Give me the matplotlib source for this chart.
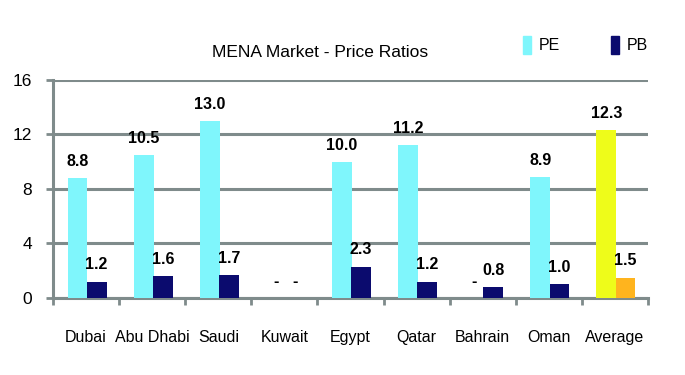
import matplotlib
matplotlib.use("Agg")
import matplotlib.pyplot as plt
import numpy as np
from matplotlib.patches import Patch

# data
markets = ["Dubai", "Abu Dhabi", "Saudi", "Kuwait", "Egypt", "Qatar", "Bahrain", "Oman", "Average"]
pe_vals = [8.8, 10.5, 13.0, 0.0, 10.0, 11.2, 0.0, 8.9, 12.3]
pb_vals = [1.2, 1.6, 1.7, 0.0, 2.3, 1.2, 0.8, 1.0, 1.5]
y_ticks = [0, 4, 8, 12, 16]

PE_COLOR = "#7ff6fc"
PB_COLOR = "#0b0b6e"
AVG_PE_COLOR = "#eefc1a"
AVG_PB_COLOR = "#ffb41e"
GRID = "#7f8b8b"

plt.rcParams["font.family"] = ["Liberation Sans", "DejaVu Sans"]

fig = plt.figure(figsize=(6.85, 3.75), dpi=100)
ax = fig.add_axes([0.0774, 0.2053, 0.8686, 0.5817])

x = np.arange(len(markets))
w = 0.3
pe_colors = [PE_COLOR] * (len(markets) - 1) + [AVG_PE_COLOR]
pb_colors = [PB_COLOR] * (len(markets) - 1) + [AVG_PB_COLOR]
pe_bars = ax.bar(x - 0.13, pe_vals, width=w, color=pe_colors, zorder=3)
pb_bars = ax.bar(x + 0.16, pb_vals, width=w, color=pb_colors, zorder=3)

for bars, vals in ((pe_bars, pe_vals), (pb_bars, pb_vals)):
    for b, v in zip(bars, vals):
        txt = f"{v:.1f}" if v > 0 else "-"
        ax.annotate(txt, (b.get_x() + b.get_width() / 2, v), textcoords="offset points",
                    xytext=(0, 12), ha="center", va="center", fontsize=11.5,
                    fontweight="bold", color="black")

ax.set_xlim(-0.5, len(markets) - 0.5)
ax.set_ylim(0, 16)
ax.set_yticks(y_ticks)
ax.tick_params(axis="y", length=5, width=2, color=GRID, pad=10, labelsize=12.5)

# tick marks at category boundaries, labels at centres
ax.set_xticks(np.arange(len(markets) + 1) - 0.5)
ax.set_xticklabels([])
ax.set_xticks(x, minor=True)
ax.set_xticklabels(markets, minor=True)
ax.tick_params(axis="x", which="major", length=5, width=2, color=GRID, direction="out")
ax.tick_params(axis="x", which="minor", length=0, pad=23, labelsize=11.5)

ax.grid(axis="y", color=GRID, linewidth=2.2, zorder=1)
for s in ("top", "right"):
    ax.spines[s].set_visible(False)
for s in ("left", "bottom"):
    ax.spines[s].set_color(GRID)
    ax.spines[s].set_linewidth(2.2)

fig.text(0.467, 0.861, "MENA Market - Price Ratios", ha="center", va="center", fontsize=12.5)

handles = [Patch(color=PE_COLOR, label="PE"), Patch(color=PB_COLOR, label="PB")]
fig.legend(handles=handles, loc="center", bbox_to_anchor=(0.855, 0.88), ncol=2, frameon=False,
           handlelength=0.5, handleheight=1.3, handletextpad=0.5, columnspacing=3.2, fontsize=11.5)

plt.savefig("out.png", dpi=100)
